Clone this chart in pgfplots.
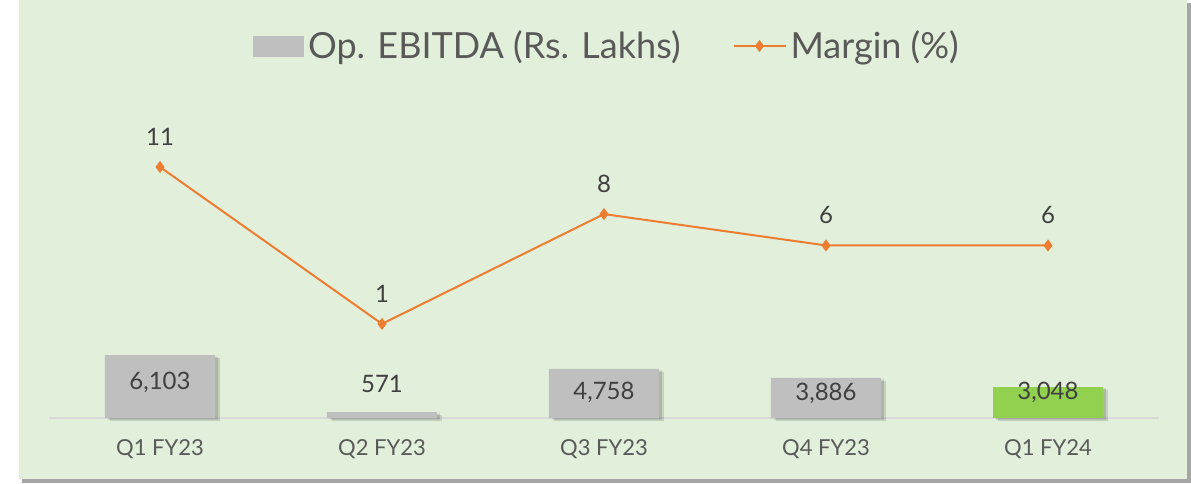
\documentclass[border=0pt]{standalone}
\usepackage{pgfplots}
\pgfplotsset{compat=1.18}
\usepackage{fontspec}
\setmainfont{Lato}

\definecolor{panel}{HTML}{E2EFDA}
\definecolor{shadowgrey}{HTML}{A6A6A6}
\definecolor{bargrey}{HTML}{BFBFBF}
\definecolor{bargreen}{HTML}{92D050}
\definecolor{lineorange}{HTML}{ED7D31}
\definecolor{textgrey}{HTML}{595959}
\definecolor{labelgrey}{HTML}{404040}
\definecolor{basegrey}{HTML}{D9D9D9}

\begin{document}
\begin{tikzpicture}
\useasboundingbox (0pt,0pt) rectangle (595.5pt,241.5pt);
% panel with its drop shadow
\fill[shadowgrey] (11pt,0pt) rectangle (595.5pt,240pt);
\fill[panel] (9.5pt,2pt) rectangle (593.5pt,241.5pt);

% bars
\begin{axis}[
    at={(24.5pt,32.5pt)}, anchor=south west,
    scale only axis, width=555pt, height=160pt,
    xmin=-0.5, xmax=4.5, ymin=0, ymax=31000,
    axis x line*=bottom, axis y line=none,
    x axis line style={draw=basegrey, line width=0.75pt, -},
    xtick={0,...,4},
    xticklabels={Q1 FY23, Q2 FY23, Q3 FY23, Q4 FY23, Q1 FY24},
    major tick length=0pt,
    xticklabel style={font=\fontsize{11}{13}\selectfont, text=textgrey, yshift=-7pt},
    ybar, bar width=55pt, bar shift=0pt,
    clip=false,
]
% soft shadow under the bars
\addplot[fill=black, draw=none, opacity=0.12, bar shift=2.5pt, yshift=-1.5pt, forget plot]
    coordinates {(0,6103) (1,571) (2,4758) (3,3886) (4,3048)};
\addplot[fill=black, draw=none, opacity=0.12, bar shift=1.5pt, yshift=-0.8pt, forget plot]
    coordinates {(0,6103) (1,571) (2,4758) (3,3886) (4,3048)};
\addplot[fill=bargrey, draw=none] coordinates {(0,6103) (1,571) (2,4758) (3,3886)};
\addplot[fill=bargreen, draw=none] coordinates {(4,3048)};
% value labels
\addplot[draw=none, fill=none, nodes near coords, point meta=explicit symbolic,
    nodes near coords style={anchor=center, font=\fontsize{12}{14}\selectfont, text=labelgrey}]
    table[meta=lab] {
x y lab
0 3487 6,103
1 3294 571
2 2519 4,758
3 2422 3,886
4 2519 3,048
};
\end{axis}

% margin line
\begin{axis}[
    at={(24.5pt,32.5pt)}, anchor=south west,
    scale only axis, width=555pt, height=160pt,
    xmin=-0.5, xmax=4.5, ymin=-5, ymax=15.4,
    hide axis, clip=false,
    /pgf/number format/assume math mode=true,
    legend style={at={(0.5,1)}, anchor=center, yshift=26pt, xshift=2pt,
        draw=none, fill=none, font=\fontsize{18}{20}\selectfont, text=textgrey,
        legend columns=-1,
        /tikz/every even column/.append style={column sep=24pt},
        nodes={inner xsep=2pt, inner ysep=0pt}},
]
\addlegendimage{legend image code/.code={\fill[bargrey] (0pt,-5pt) rectangle (25pt,5pt);}}
\addlegendentry{Op. EBITDA (Rs. Lakhs)}
\addplot[color=lineorange, line width=1pt, mark=diamond*, mark size=2.2pt,
    nodes near coords,
    nodes near coords style={anchor=center, yshift=15pt, font=\fontsize{12}{14}\selectfont, text=labelgrey},
    legend image code/.code={\draw[lineorange, line width=1pt] plot[mark=diamond*, mark size=2.2pt, mark repeat=2, mark phase=2] coordinates {(0pt,0pt) (13pt,0pt) (26pt,0pt)};}]
    coordinates {(0,11) (1,1) (2,8) (3,6) (4,6)};
\addlegendentry{Margin (\%)}
\end{axis}
\end{tikzpicture}
\end{document}
